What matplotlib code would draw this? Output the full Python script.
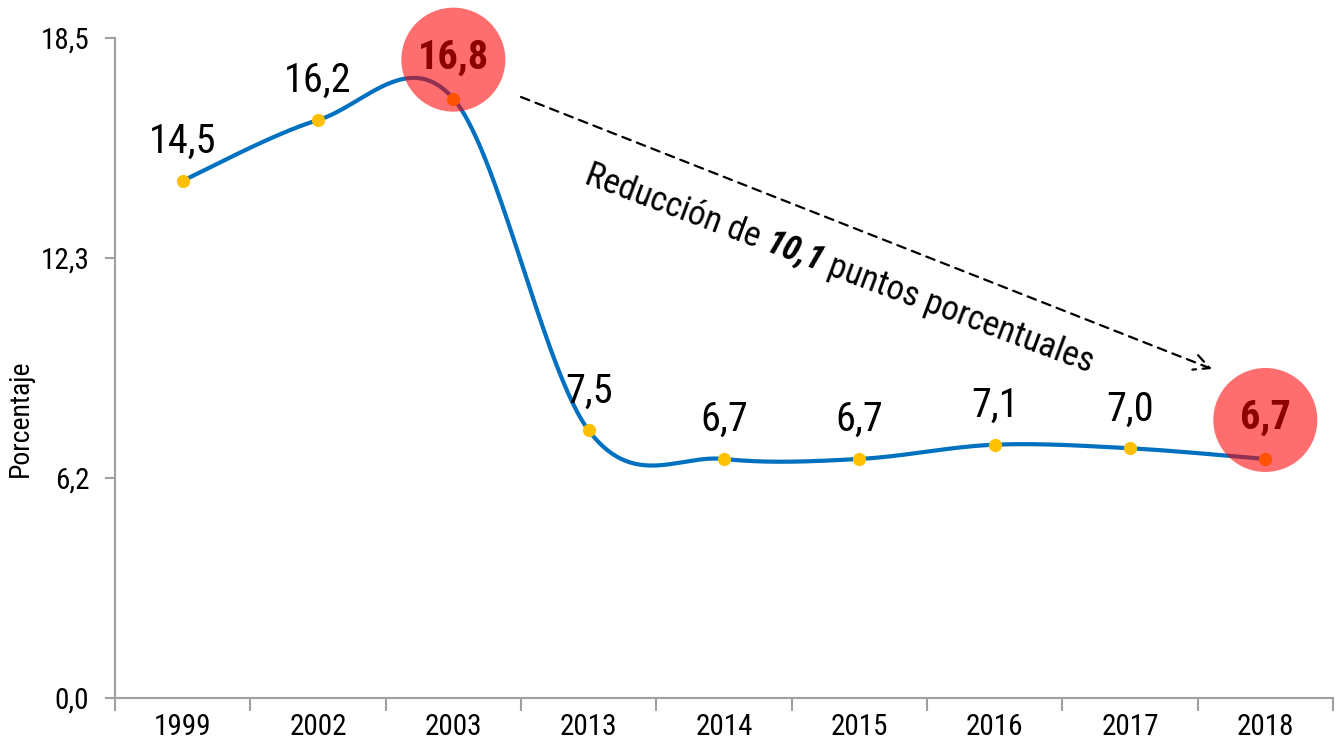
import numpy as np
import matplotlib
matplotlib.use("Agg")
import matplotlib.pyplot as plt
from matplotlib import font_manager as fm
from matplotlib.patches import Circle
from matplotlib.transforms import IdentityTransform

categories = ["1999", "2002", "2003", "2013", "2014", "2015", "2016", "2017", "2018"]
values = [14.5, 16.2, 16.8, 7.5, 6.7, 6.7, 7.1, 7.0, 6.7]
highlight = ["2003", "2018"]
yticks = [0.0, 18.5 / 3, 2 * 18.5 / 3, 18.5]
annotation_parts = ["Reducción de ", "10,1", " puntos porcentuales"]

names = {f.name for f in fm.fontManager.ttflist}
FONT = next((f for f in ["Liberation Sans Narrow", "Arial Narrow", "Roboto Condensed", "Liberation Sans"]
             if f in names), "DejaVu Sans")
plt.rcParams["font.family"] = [FONT, "DejaVu Sans"]

fig = plt.figure(figsize=(13.39, 7.51), dpi=100)
ax = fig.add_axes([115 / 1339, 1 - 698 / 751, 1218 / 1339, 660 / 751])

x = np.arange(len(categories), dtype=float)
y = np.array(values, dtype=float)

# Excel-like smoothed line
xs, ys = [], []
n = len(x)
for i in range(n - 1):
    p0 = np.array([x[max(i - 1, 0)], y[max(i - 1, 0)]])
    p1 = np.array([x[i], y[i]])
    p2 = np.array([x[i + 1], y[i + 1]])
    p3 = np.array([x[min(i + 2, n - 1)], y[min(i + 2, n - 1)]])
    c1 = p1 + (p2 - p0) / 6
    c2 = p2 - (p3 - p1) / 6
    t = np.linspace(0, 1, 60)[:, None]
    b = (1 - t) ** 3 * p1 + 3 * (1 - t) ** 2 * t * c1 + 3 * (1 - t) * t ** 2 * c2 + t ** 3 * p2
    xs.extend(b[:, 0]); ys.extend(b[:, 1])

ax.set_xlim(-0.5, len(categories) - 0.5)
ax.set_ylim(0, 18.5)

ax.plot(xs, ys, color="#0070C0", lw=3.0, solid_capstyle="butt", zorder=2)
ax.plot(x, y, "o", color="#FFC000", ms=9.5, mec="none", zorder=3)

for xi, v, c in zip(x, values, categories):
    lab = f"{v:.1f}".replace(".", ",")
    if c in highlight:
        cx, cy = ax.transData.transform((xi, v))
        circ = Circle((cx, cy + 39), 52, facecolor="#FF0000", alpha=0.57, edgecolor="none",
                      zorder=4, transform=IdentityTransform(), clip_on=False)
        fig.add_artist(circ)
        fig.text(cx / 1339, (cy + 41) / 751, lab, ha="center", va="center", fontsize=29,
                 fontweight="bold", color="#8B0000", zorder=5)
    else:
        ax.annotate(lab, (xi, v), xytext=(0, 20), textcoords="offset points",
                    ha="center", va="baseline", fontsize=29, color="black", zorder=5)

ax.set_yticks(yticks)
ax.set_yticklabels([f"{t:.1f}".replace(".", ",") for t in yticks], fontsize=21)
ax.set_xticks(x)
ax.set_xticklabels(categories, fontsize=21)
ax.set_xticks(np.arange(-0.5, len(categories), 1.0), minor=True)
ax.tick_params(axis="x", which="major", length=0, pad=11)
ax.tick_params(axis="x", which="minor", length=9, width=1.5, color="#A0A0A0", direction="out")
ax.tick_params(axis="y", length=7, width=1.5, color="#A0A0A0", direction="out", pad=11.5)
for s in ["top", "right"]:
    ax.spines[s].set_visible(False)
for s in ["left", "bottom"]:
    ax.spines[s].set_color("#A0A0A0")
    ax.spines[s].set_linewidth(1.5)
ax.set_ylabel("Porcentaje", fontsize=20)
ax.yaxis.set_label_coords(-81 / 1218, (698 - 418) / 660)

# dashed arrow
inv = ax.transData.inverted()
start = inv.transform((521, 751 - 97))
end = inv.transform((1212, 751 - 369))
ax.annotate("", xy=end, xytext=start, xycoords="data",
            arrowprops=dict(arrowstyle="->", linestyle=(0, (4, 3)), lw=1.6, color="black",
                            mutation_scale=28, shrinkA=0, shrinkB=0), zorder=6)

# rotated mixed-style annotation
fig.canvas.draw()
renderer = fig.canvas.get_renderer()
angle = -20.5
FS = 25
styles = [dict(), dict(fontweight="bold", fontstyle="italic"), dict()]
widths = []
for part, st in zip(annotation_parts, styles):
    t = fig.text(0, 0, part, fontsize=FS, **st)
    widths.append(t.get_window_extent(renderer).width)
    t.remove()
start_px = np.array([583.0, 751 - 183.0])
d = np.array([np.cos(np.radians(angle)), np.sin(np.radians(angle))])
pos = start_px.copy()
for part, st, w in zip(annotation_parts, styles, widths):
    fig.text(pos[0] / 1339, pos[1] / 751, part, fontsize=FS, rotation=angle,
             rotation_mode="anchor", ha="left", va="baseline", **st)
    pos = pos + d * w

fig.savefig("out.png", dpi=100)
